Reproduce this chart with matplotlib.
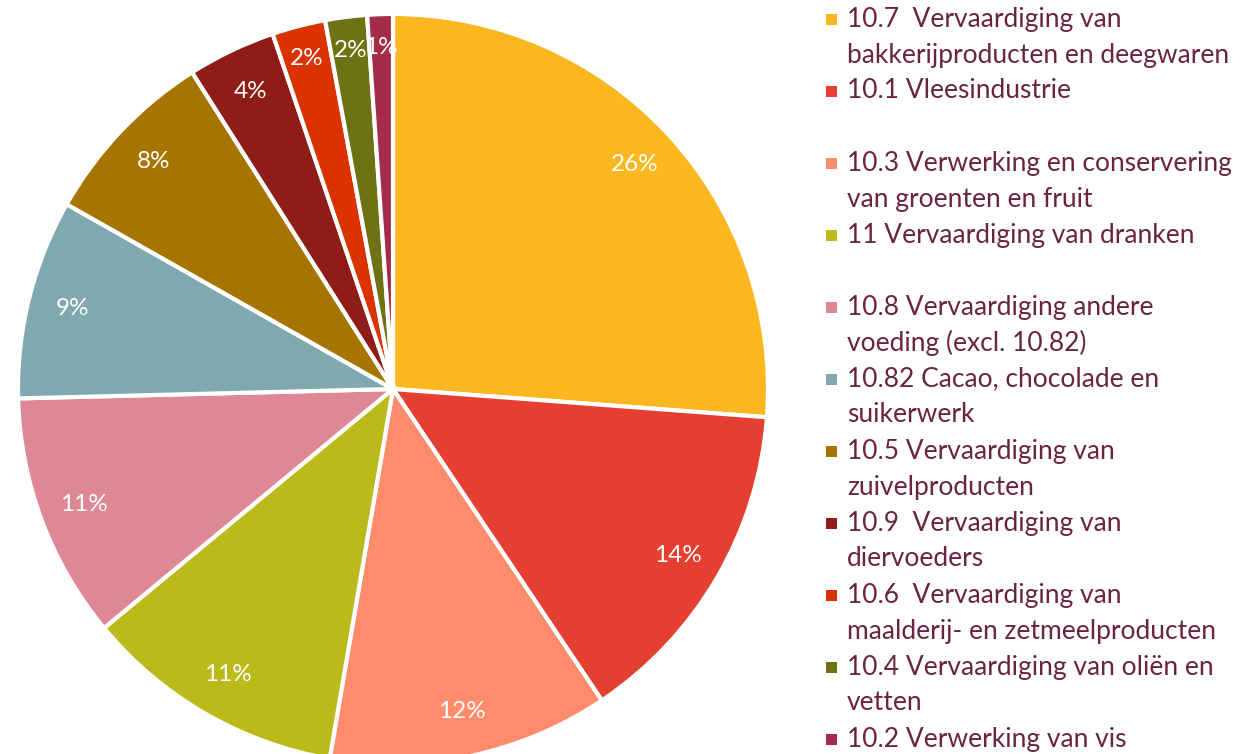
import matplotlib
matplotlib.use('Agg')
import numpy as np
import matplotlib.pyplot as plt
from matplotlib.patches import Rectangle

# sector shares (percent), clockwise from 12 o'clock
labels = ['10.7  Vervaardiging van\nbakkerijproducten en deegwaren',
          '10.1 Vleesindustrie',
          '10.3 Verwerking en conservering\nvan groenten en fruit',
          '11 Vervaardiging van dranken',
          '10.8 Vervaardiging andere\nvoeding (excl. 10.82)',
          '10.82 Cacao, chocolade en\nsuikerwerk',
          '10.5 Vervaardiging van\nzuivelproducten',
          '10.9  Vervaardiging van\ndiervoeders',
          '10.6  Vervaardiging van\nmaalderij- en zetmeelproducten',
          '10.4 Vervaardiging van oliën en\nvetten',
          '10.2 Verwerking van vis']
shares = [26.2, 14.4, 12.1, 11.3, 10.6, 8.6, 7.8, 3.8, 2.3, 1.8, 1.1]
colors = ['#FBB71F', '#E43F31', '#FE8C6C', '#BBBA1A', '#DE8896', '#7FA8AF',
          '#A67400', '#8F1D17', '#DB3300', '#6E7215', '#A52B4A']

TEXT_COLOR = '#6A2441'
plt.rcParams['font.family'] = ['Lato', 'DejaVu Sans']

W, H = 1258, 754
fig = plt.figure(figsize=(W / 100, H / 100), dpi=100)

cx, cy, r = 393, 389, 375
ax = fig.add_axes([(cx - r) / W, (H - cy - r) / H, 2 * r / W, 2 * r / H])
wedges, _, autotexts = ax.pie(shares, colors=colors, startangle=90, counterclock=False,
                              autopct=lambda p: f'{p:.0f}%', pctdistance=0.88,
                              wedgeprops=dict(edgecolor='white', linewidth=3),
                              textprops=dict(color='white', fontsize=17.5))
# push the labels of the thin slices a bit outward
for w, t, s in zip(wedges, autotexts, shares):
    if s < 3:
        ang = np.deg2rad((w.theta1 + w.theta2) / 2)
        t.set_position((0.91 * np.cos(ang), 0.91 * np.sin(ang)))
ax.set_xlim(-1, 1)
ax.set_ylim(-1, 1)
ax.set_aspect('equal')
ax.axis('off')

# legend: each entry takes two lines of 36px
x_box, x_txt, y0, line_h = 826, 847, 19, 36
for i, (lab, col) in enumerate(zip(labels, colors)):
    y = y0 + i * 2 * line_h
    fig.patches.append(Rectangle((x_box / W, 1 - (y + 6) / H), 11 / W, 11 / H,
                                 transform=fig.transFigure, facecolor=col, edgecolor='none'))
    for j, line in enumerate(lab.split('\n')):
        fig.text(x_txt / W, 1 - (y + j * line_h) / H, line, color=TEXT_COLOR,
                 fontsize=19, va='center', ha='left')

fig.savefig('out.png', dpi=100)
